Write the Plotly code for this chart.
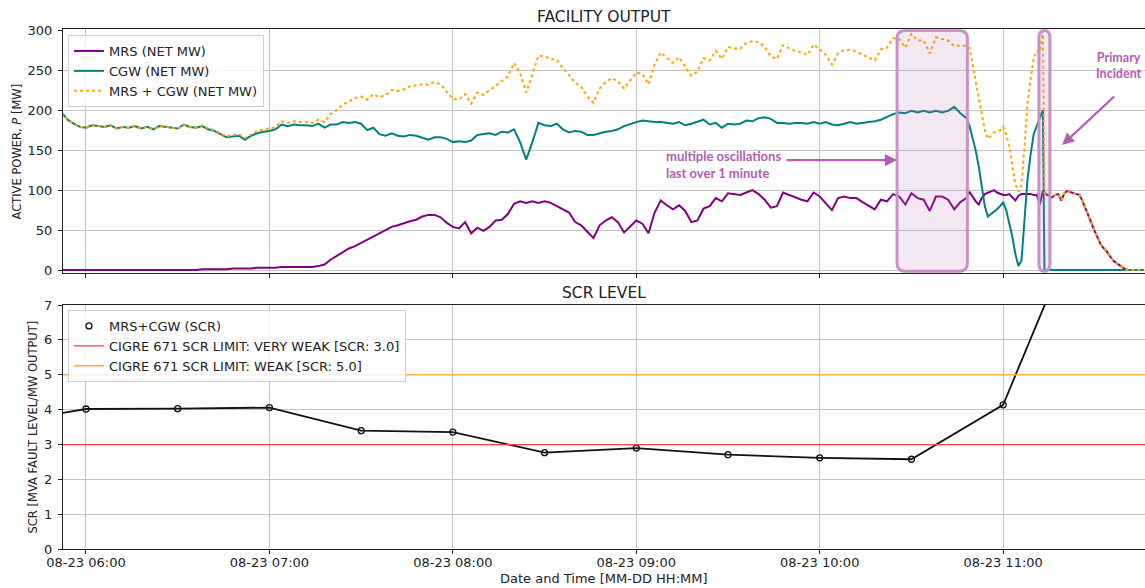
import plotly.graph_objects as go

# ---------------- data (time = minutes after 08-23 06:00) ----------------
MAIN_START_MIN = -8          # first sample 05:52, 2-minute spacing
MAIN_STEP_MIN = 2

CGW_MAIN = [
    197, 188, 183, 179, 178, 181, 180, 179, 181, 177,
    179, 178, 180, 177, 179, 176, 180, 179, 178, 177,
    182, 179, 178, 180, 176, 174, 170, 166, 167, 168,
    163, 168, 171, 173, 174, 176, 182, 180, 182, 181,
    181, 180, 183, 178, 182, 182, 185, 184, 185, 183,
    175, 178, 170, 168, 171, 168, 167, 169, 168, 165,
    163, 166, 166, 164, 160, 161, 160, 162, 169, 170,
    171, 169, 173, 172, 176, 160, 138, 160,
    184, 181, 180, 183, 176, 172, 174, 173, 169, 169,
    171, 173, 174, 176, 180, 183, 185, 187, 186, 185,
    185, 184, 183, 185, 181, 183, 186, 188, 182, 184,
    178, 183, 182, 183, 187, 186, 190, 191, 189,
    184, 184, 183, 184, 184, 183, 185, 183, 185, 182,
    181, 183, 185, 183, 184, 185, 186, 188, 192, 195,
    197, 196, 199, 197, 199, 197, 199, 197, 199, 204,
    196,
]

MRS_MAIN = [
    0, 0, 0, 0, 0, 0, 0, 0, 0, 0,
    0, 0, 0, 0, 0, 0, 0, 0, 0, 0,
    0, 0, 0, 1, 1, 1, 1, 1, 2, 2,
    2, 2, 3, 3, 3, 3, 4, 4, 4, 4,
    4, 4, 5, 7, 13, 18, 22, 27, 30, 34,
    38, 42, 46, 51, 54, 56, 59, 61, 63, 67,
    69, 69, 66, 59, 54, 52, 60, 46, 53, 49,
    54, 62, 63, 70, 83, 86, 84, 86,
    84, 86, 84, 80, 76, 72, 60, 56, 48, 40,
    56, 62, 66, 60, 47, 54, 62, 58, 46, 72,
    87, 81, 76, 81, 74, 60, 62, 77, 80, 90,
    86, 96, 95, 94, 97, 100, 95, 88, 78,
    80, 97, 94, 90, 88, 86, 97, 92, 84, 75,
    90, 92, 90, 90, 85, 80, 76, 88, 86, 95,
    92, 82, 96, 90, 88, 74, 92, 92, 88, 76,
    85,
]

# incident period, finer sampling
T_INCIDENT = list(range(288, 314)) + [313.5] + list(range(314, 347))
CGW_INCIDENT = [
    190, 180, 165, 150, 130, 105, 80, 67, 70, 72,
    76, 80, 85, 75, 60, 42, 20, 5, 12, 60,
    115, 145, 170, 180, 190, 200,
    0,
    0, 0, 0, 0, 0, 0, 0, 0, 0, 0,
    0, 0, 0, 0, 0, 0, 0, 0, 0, 0,
    0, 0, 0, 0, 0, 0, 0, 0, 0, 0,
    0, 0, 0,
]
MRS_INCIDENT = [
    90, 98, 92, 86, 82, 90, 95, 97, 98, 100,
    97, 95, 94, 94, 95, 91, 87, 93, 95, 95,
    95, 95, 94, 94, 82, 99,
    97,
    95, 93, 91, 94, 95, 87, 96, 99, 97, 96,
    95, 94, 86, 76, 67, 58, 48, 40, 31, 27,
    23, 17, 12, 9, 6, 3, 1, 0, 0, 0,
    0, 0, 0,
]

SCR_TIMES = [-30, 0, 30, 60, 90, 120, 150, 180, 210, 240, 270, 300, 330]
SCR_VALUES = [3.58, 4.02, 4.03, 4.06, 3.40, 3.36, 2.77, 2.90, 2.71, 2.62, 2.58, 4.14, 10.45]
SCR_VERY_WEAK = 3.0
SCR_WEAK = 5.0

TICK_MINUTES = [0, 60, 120, 180, 240, 300]
TICK_LABELS = ["08-23 06:00", "08-23 07:00", "08-23 08:00",
               "08-23 09:00", "08-23 10:00", "08-23 11:00"]
P_TICKS = [0, 50, 100, 150, 200, 250, 300]
SCR_TICKS = [0, 1, 2, 3, 4, 5, 6, 7]

X_RANGE = [-7.52, 346.4]
P_RANGE = [-4, 301]
SCR_RANGE = [0, 7]

OSC_WINDOW = (265.3, 288.3)        # "multiple oscillations" box (minutes)
INCIDENT_WINDOW = (311.7, 315.3)   # primary incident box (minutes)

# ---------------- build series ----------------
t_main = [MAIN_START_MIN + MAIN_STEP_MIN * i for i in range(len(CGW_MAIN))]
t_all = t_main + T_INCIDENT
cgw = CGW_MAIN + CGW_INCIDENT
mrs = MRS_MAIN + MRS_INCIDENT
tot = [a + b for a, b in zip(mrs, cgw)]

PURPLE = "#800080"
TEAL = "#008080"
ORANGE = "#FFA500"
ANN = "#b35db3"
BOX_LINE = "#c891c8"
GRID = "#c4c4c4"
AX = "#222222"
FONT = "DejaVu Sans"

W, H = 1145, 588
X_DOM = [63 / W, 1.0]
Y1_DOM = [1 - 273.3 / H, 1 - 29.3 / H]
Y2_DOM = [1 - 549.3 / H, 1 - 305 / H]

fig = go.Figure()

fig.add_trace(go.Scatter(x=t_all, y=mrs, mode="lines", name="MRS (NET MW)",
                         line=dict(color=PURPLE, width=2), xaxis="x", yaxis="y", legend="legend"))
fig.add_trace(go.Scatter(x=t_all, y=cgw, mode="lines", name="CGW (NET MW)",
                         line=dict(color=TEAL, width=2), xaxis="x", yaxis="y", legend="legend"))
fig.add_trace(go.Scatter(x=t_all, y=tot, mode="lines", name="MRS + CGW (NET MW)",
                         line=dict(color=ORANGE, width=2, dash="dot"), xaxis="x", yaxis="y",
                         legend="legend"))

# SCR panel
fig.add_trace(go.Scatter(x=SCR_TIMES, y=SCR_VALUES, mode="lines", showlegend=False,
                         line=dict(color="#111111", width=1.8), xaxis="x2", yaxis="y2"))
fig.add_trace(go.Scatter(x=SCR_TIMES, y=SCR_VALUES, mode="markers", name="MRS+CGW (SCR)",
                         marker=dict(symbol="circle-open", size=6, color="#111111",
                                     line=dict(width=1.3, color="#111111")),
                         xaxis="x2", yaxis="y2", legend="legend2"))
fig.add_trace(go.Scatter(x=X_RANGE, y=[SCR_VERY_WEAK, SCR_VERY_WEAK], mode="lines",
                         name="CIGRE 671 SCR LIMIT: VERY WEAK [SCR: %.1f]" % SCR_VERY_WEAK,
                         line=dict(color="#ff4040", width=1.3), xaxis="x2", yaxis="y2",
                         legend="legend2"))
fig.add_trace(go.Scatter(x=X_RANGE, y=[SCR_WEAK, SCR_WEAK], mode="lines",
                         name="CIGRE 671 SCR LIMIT: WEAK [SCR: %.1f]" % SCR_WEAK,
                         line=dict(color="#ffaa5e", width=1.6), xaxis="x2", yaxis="y2",
                         legend="legend2"))


def rounded_box(x0, x1, y0, y1, rx, ry):
    rx = min(rx, (x1 - x0) * 0.45)
    return (f"M {x0 + rx},{y0} L {x1 - rx},{y0} Q {x1},{y0} {x1},{y0 + ry} "
            f"L {x1},{y1 - ry} Q {x1},{y1} {x1 - rx},{y1} "
            f"L {x0 + rx},{y1} Q {x0},{y1} {x0},{y1 - ry} "
            f"L {x0},{y0 + ry} Q {x0},{y0} {x0 + rx},{y0} Z")


shapes = []
for (a, b) in (OSC_WINDOW, INCIDENT_WINDOW):
    shapes.append(dict(type="path", xref="x", yref="y",
                       path=rounded_box(a, b, -1.3, 299.6, 2.6, 10),
                       line=dict(color=BOX_LINE, width=3),
                       fillcolor="rgba(185,110,185,0.16)", layer="above"))

axis_common = dict(showgrid=True, gridcolor=GRID, gridwidth=1, zeroline=False,
                   showline=True, linecolor=AX, linewidth=1, ticks="outside",
                   ticklen=4, tickcolor=AX, automargin=False,
                   tickfont=dict(family=FONT, size=13, color=AX))

fig.update_layout(
    width=W, height=H, autosize=False,
    margin=dict(l=0, r=0, t=0, b=0, autoexpand=False),
    paper_bgcolor="white", plot_bgcolor="white",
    font=dict(family=FONT, size=13, color=AX),
    xaxis=dict(domain=X_DOM, range=X_RANGE, anchor="y", tickvals=TICK_MINUTES,
               showticklabels=False, mirror=True, **axis_common),
    yaxis=dict(domain=Y1_DOM, range=P_RANGE, anchor="x", tickvals=P_TICKS,
               ticklabelstandoff=3, **axis_common),
    xaxis2=dict(domain=X_DOM, range=X_RANGE, anchor="y2", matches="x", tickvals=TICK_MINUTES,
                ticktext=TICK_LABELS, mirror=True, ticklabelstandoff=-3, **axis_common),
    yaxis2=dict(domain=Y2_DOM, range=SCR_RANGE, anchor="x2", tickvals=SCR_TICKS,
                ticklabelstandoff=3, **axis_common),
    legend=dict(x=68 / W, y=1 - 35 / H, xanchor="left", yanchor="top",
                bgcolor="rgba(255,255,255,0.85)", bordercolor="#d0d0d0", borderwidth=1,
                font=dict(family=FONT, size=13, color=AX), tracegroupgap=0),
    legend2=dict(x=68 / W, y=1 - 310 / H, xanchor="left", yanchor="top",
                 bgcolor="rgba(255,255,255,0.85)", bordercolor="#d0d0d0", borderwidth=1,
                 font=dict(family=FONT, size=13, color=AX), tracegroupgap=0),
    shapes=shapes,
)

annotations = [
    dict(text="FACILITY OUTPUT", xref="paper", yref="paper", x=604 / W, y=1 - 17 / H,
         showarrow=False, font=dict(family=FONT, size=15.5, color=AX), xanchor="center",
         yanchor="middle"),
    dict(text="SCR LEVEL", xref="paper", yref="paper", x=604 / W, y=1 - 293 / H,
         showarrow=False, font=dict(family=FONT, size=15.5, color=AX), xanchor="center",
         yanchor="middle"),
    dict(text="Date and Time [MM-DD HH:MM]", xref="paper", yref="paper", x=604 / W,
         y=1 - 578 / H, showarrow=False, font=dict(family=FONT, size=13, color=AX),
         xanchor="center", yanchor="middle"),
    dict(text="ACTIVE POWER, <i>P</i> [MW]", xref="paper", yref="paper", x=16 / W,
         y=1 - 151.5 / H, showarrow=False, textangle=-90,
         font=dict(family=FONT, size=11.5, color=AX), xanchor="center", yanchor="middle"),
    dict(text="SCR [MVA FAULT LEVEL/MW OUTPUT]", xref="paper", yref="paper", x=32 / W,
         y=1 - 427.5 / H, showarrow=False, textangle=-90,
         font=dict(family=FONT, size=11.5, color=AX), xanchor="center", yanchor="middle"),
    # oscillation note + arrow
    dict(text="multiple oscillations<br>last over 1 minute", xref="x", yref="y",
         x=189.1, y=132, showarrow=False, xanchor="left", yanchor="middle", align="left",
         font=dict(family="Lato", size=13, color=ANN, weight="bold")),
    dict(text="", xref="x", yref="y", x=OSC_WINDOW[0], y=137.5, ax=228.7, ay=137.5,
         axref="x", ayref="y", showarrow=True, arrowhead=2, arrowsize=1.1, arrowwidth=2.2,
         arrowcolor=ANN),
    # primary incident note + arrow
    dict(text="Primary<br>Incident", xref="x", yref="y", x=337.9, y=256, showarrow=False,
         xanchor="center", yanchor="middle", align="center",
         font=dict(family="Lato", size=12.5, color=ANN, weight="bold")),
    dict(text="", xref="x", yref="y", x=319.3, y=156.3, ax=336.8, ay=218.8,
         axref="x", ayref="y", showarrow=True, arrowhead=2, arrowsize=1.1, arrowwidth=2.2,
         arrowcolor=ANN),
]
fig.update_layout(annotations=annotations)

fig.write_html("out.html")
